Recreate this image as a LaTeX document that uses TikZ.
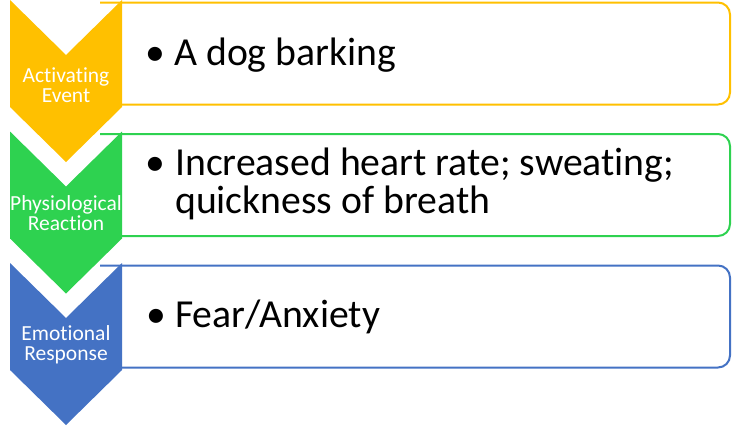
\documentclass[tikz,border=0pt]{standalone}
\usepackage{fontspec}
\setmainfont{Carlito}[Ligatures={NoCommon}]
\definecolor{cyellow}{RGB}{255,192,0}
\definecolor{cgreen}{RGB}{46,210,80}
\definecolor{cblue}{RGB}{68,114,196}
\begin{document}
\begin{tikzpicture}[x=1bp,y=-1bp,
  chev/.style={fill=#1,draw=none},
  card/.style={draw=#1,line width=2bp,fill=white,rounded corners=12bp},
  lab/.style={text=white,font=\fontsize{21.5bp}{20bp}\selectfont,align=center,anchor=base,inner sep=0pt},
  bul/.style={font=\fontsize{39.7bp}{38bp}\selectfont,anchor=base west,inner sep=0pt},
  body/.style={font=\fontsize{39.7bp}{38bp}\selectfont,anchor=base west,inner sep=0pt,align=left}]
\useasboundingbox (0,0) rectangle (732,425);
% cards
\foreach \t/\c in {0/cyellow, 131.5/cgreen, 263/cblue}{
  \draw[card=\c] (100,\t+2.5) -- (730,\t+2.5) -- (730,\t+104.5) -- (100,\t+104.5);
}
% chevrons
\foreach \t/\c in {0/cyellow, 131.5/cgreen, 263/cblue}{
  \fill[chev=\c] (10,\t) -- (66,\t+55) -- (122,\t) -- (122,\t+107) -- (66,\t+162) -- (10,\t+107) -- cycle;
}
\node[lab] (l1) at (66,102) {Activating\\Event};
\node[lab] (l2) at (66,230) {Physiological\\Reaction};
\node[lab] (l3) at (66,360) {Emotional\\Response};
\node[bul] (b1) at (145,65) {•};
\node[body] (t1) at (174,65) {A dog barking};
\node[bul] (b2) at (145,175) {•};
\node[body] (t2) at (175,213) {Increased heart rate; sweating;\\quickness of breath};
\node[bul] (b3) at (146,327) {•};
\node[body] (t3) at (175,327) {Fear/Anxiety};
\end{tikzpicture}
\end{document}
